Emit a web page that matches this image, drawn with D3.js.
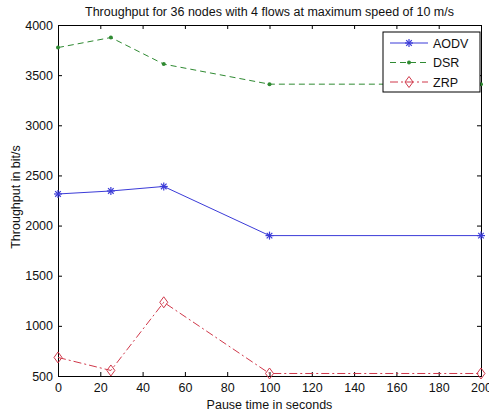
<!DOCTYPE html>
<html><head><meta charset="utf-8">
<script src="https://cdn.jsdelivr.net/npm/d3@7"></script>
<style>body{margin:0;background:#fff;}svg{display:block;font-family:"Liberation Sans",Arial,sans-serif;}</style>
</head><body>
<svg id="c" width="489" height="414"></svg>
<script>
const pauseTimes = [0, 25, 50, 100, 200];
const aodv = [2315, 2345, 2390, 1900, 1900];
const dsr = [3775, 3875, 3610, 3410, 3410];
const zrp = [685, 555, 1235, 525, 525];
const xTicks = [0, 20, 40, 60, 80, 100, 120, 140, 160, 180, 200];
const yTicks = [500, 1000, 1500, 2000, 2500, 3000, 3500, 4000];
const seriesNames = ["AODV", "DSR", "ZRP"];

const svg = d3.select("#c");
const L = 58, R = 481, T = 25, B = 376;
const x = d3.scaleLinear().domain([0, 200]).range([L, R]);
const y = d3.scaleLinear().domain([500, 4000]).range([B, T]);

const series = [
  {name: seriesNames[0], vals: aodv, color: "#3b3bd8", dash: null, marker: "star"},
  {name: seriesNames[1], vals: dsr, color: "#2f8a32", dash: "6,4", marker: "dot"},
  {name: seriesNames[2], vals: zrp, color: "#d0384a", dash: "8,3,2,3", marker: "diamond"}
];

const fs = 12.5;
const gx = svg.append("g").attr("transform", `translate(0,${B})`)
  .call(d3.axisBottom(x).tickValues(xTicks).tickSize(-4).tickPadding(7).tickFormat(d3.format("d")));
const gxt = svg.append("g").attr("transform", `translate(0,${T})`)
  .call(d3.axisTop(x).tickValues(xTicks).tickSize(-4).tickFormat(""));
const gy = svg.append("g").attr("transform", `translate(${L},0)`)
  .call(d3.axisLeft(y).tickValues(yTicks).tickSize(-4).tickPadding(5).tickFormat(d3.format("d")));
const gyr = svg.append("g").attr("transform", `translate(${R},0)`)
  .call(d3.axisRight(y).tickValues(yTicks).tickSize(-4).tickFormat(""));
[gx, gxt, gy, gyr].forEach(g => {
  g.select(".domain").attr("stroke", "#000").attr("stroke-width", 1);
  g.selectAll(".tick line").attr("stroke", "#000");
  g.selectAll("text").attr("font-size", fs).attr("fill", "#111").attr("font-family", "Liberation Sans, Arial, sans-serif");
});

function drawMarker(g, type, cx, cy, color) {
  if (type === "star") {
    const s = 4;
    const p = g.append("g").attr("stroke", color).attr("stroke-width", 1.2);
    p.append("line").attr("x1", cx - s).attr("x2", cx + s).attr("y1", cy).attr("y2", cy);
    p.append("line").attr("x1", cx).attr("x2", cx).attr("y1", cy - s).attr("y2", cy + s);
    p.append("line").attr("x1", cx - s * 0.7).attr("x2", cx + s * 0.7).attr("y1", cy - s * 0.7).attr("y2", cy + s * 0.7);
    p.append("line").attr("x1", cx - s * 0.7).attr("x2", cx + s * 0.7).attr("y1", cy + s * 0.7).attr("y2", cy - s * 0.7);
  } else if (type === "dot") {
    g.append("circle").attr("cx", cx).attr("cy", cy).attr("r", 2).attr("fill", color);
  } else {
    g.append("path").attr("d", `M${cx},${cy - 5.5}L${cx + 4},${cy}L${cx},${cy + 5.5}L${cx - 4},${cy}Z`)
      .attr("fill", "none").attr("stroke", color).attr("stroke-width", 1);
  }
}

const line = d3.line().x((d, i) => x(pauseTimes[i])).y(d => y(d));
series.forEach(s => {
  svg.append("path").datum(s.vals).attr("d", line).attr("fill", "none")
    .attr("stroke", s.color).attr("stroke-width", 1).attr("stroke-dasharray", s.dash);
  const g = svg.append("g");
  s.vals.forEach((v, i) => drawMarker(g, s.marker, x(pauseTimes[i]), y(v), s.color));
});

// legend
const lg = svg.append("g");
lg.append("rect").attr("x", 383).attr("y", 32).attr("width", 97).attr("height", 60)
  .attr("fill", "#fff").attr("stroke", "#000").attr("stroke-width", 1);
series.forEach((s, i) => {
  const ly = 43 + i * 19.5;
  lg.append("line").attr("x1", 390).attr("x2", 428).attr("y1", ly).attr("y2", ly)
    .attr("stroke", s.color).attr("stroke-width", 1).attr("stroke-dasharray", s.dash);
  drawMarker(lg, s.marker, 409, ly, s.color);
  lg.append("text").attr("x", 433).attr("y", ly + 4.5).attr("font-size", fs).attr("fill", "#111").text(s.name);
});

// titles
svg.append("text").attr("x", (L + R) / 2).attr("y", 16).attr("text-anchor", "middle")
  .attr("font-size", fs).attr("fill", "#111").text("Throughput for 36 nodes with 4 flows at maximum speed of 10 m/s");
svg.append("text").attr("x", (L + R) / 2).attr("y", 409).attr("text-anchor", "middle")
  .attr("font-size", fs).attr("fill", "#111").text("Pause time in seconds");
svg.append("text").attr("transform", `translate(20,197) rotate(-90)`).attr("text-anchor", "middle")
  .attr("font-size", fs).attr("fill", "#111").text("Throughput in bit/s");
</script>
</body></html>
